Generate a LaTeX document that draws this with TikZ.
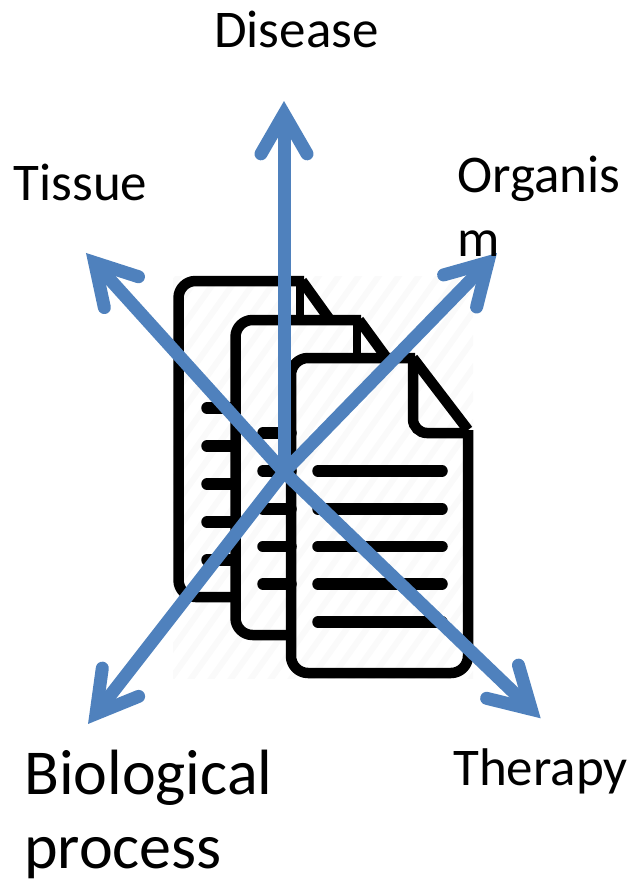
\documentclass[tikz,border=0pt]{standalone}
\usepackage{fontspec}
\setmainfont{Carlito}
\usetikzlibrary{calc}
\definecolor{arrowblue}{HTML}{4F81BD}
\definecolor{hatchgrey}{HTML}{FAFAFA}
\tikzset{
  docline/.style={line width=10.5pt,black,line join=round,rounded corners=17pt},
  foldline/.style={line width=10.5pt,black,line join=round},
  textline/.style={line width=11.5pt,black,line cap=round},
  shaft/.style={line width=13pt,arrowblue},
  barbs/.style={line width=13pt,arrowblue,line cap=round,line join=miter,miter limit=10},
  smalllabel/.style={anchor=base west,inner sep=0pt,font=\fontsize{53}{63}\selectfont},
  biglabel/.style={anchor=base west,inner sep=0pt,font=\fontsize{64}{73}\selectfont}
}
\newcommand{\blueray}[2]{%
  \draw[shaft] (#1) -- (#2);
  \draw[barbs] ($(#2)!46pt!30:(#1)$) -- (#2) -- ($(#2)!46pt!-30:(#1)$);
}
\begin{document}
\begin{tikzpicture}[x=1pt,y=-1pt]
\useasboundingbox (0,0) rectangle (632,881);
% faint hatching of the picture behind the documents
\begin{scope}
  \clip (173,276) rectangle (473,678);
  \foreach \k in {-330,-310,...,300}
    \draw[hatchgrey,line width=6pt] (\k+173,690) -- (\k+473,270);
\end{scope}
% back document
\draw[docline] (232,597) -- (178.5,597) -- (178.5,281) -- (304,281);
\draw[foldline] (302,281) -- (330,320);
\draw[line width=8pt] (300,281) -- (300,318);
\foreach \y in {408,446,484,522,560}
  \draw[textline] (207,\y) -- (232,\y);
% middle document
\draw[docline] (289,635) -- (235.5,635) -- (235.5,320) -- (361,320);
\draw[foldline] (359,320) -- (386,357);
\draw[line width=8pt] (357,320) -- (357,356);
\foreach \y in {433,471,509,546.5,584}
  \draw[textline] (263,\y) -- (291,\y);
% front document
\draw[docline] (415,358) -- (291,358) -- (291,673) -- (468,673) -- (468,430);
\draw[foldline] (413,358) -- (468,430);
\draw[line width=10.5pt,rounded corners=14pt] (413,358) -- (413,433) -- (468,433);
\foreach \y in {471,509,546.5,584,622}
  \draw[textline] (318,\y) -- (442,\y);
% arrows
\coordinate (hub) at (284,472);
\coordinate (up) at (284,114);
\coordinate (nw) at (94.7,262.6);
\coordinate (ne) at (487.9,262.4);
\coordinate (se) at (531.3,709.3);
\coordinate (sw) at (96,713.7);
\blueray{hub}{up}
\blueray{hub}{nw}
\blueray{hub}{ne}
\blueray{hub}{se}
\blueray{hub}{sw}
% labels
\node[smalllabel] (disease) at (214,47) {Disease};
\node[smalllabel] (tissue) at (13.5,200) {Tissue};
\node[smalllabel] (organis) at (457,192) {Organis};
\node[smalllabel] (organism) at (457,256) {m};
\node[smalllabel] (therapy) at (453,785) {Therapy};
\node[biglabel] (bio) at (24,794) {Biological};
\node[biglabel] (process) at (24,868) {process};
\end{tikzpicture}
\end{document}
